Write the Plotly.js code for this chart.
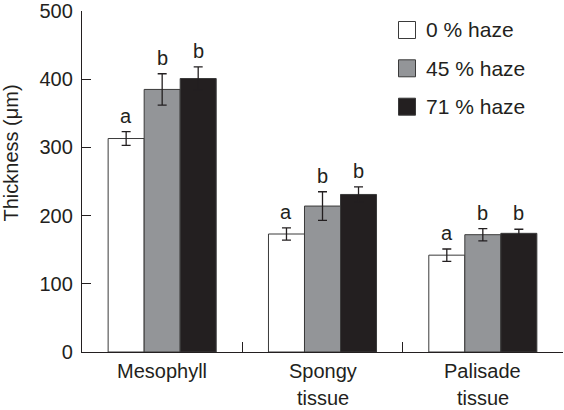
<!DOCTYPE html>
<html>
<head>
<meta charset="utf-8">
<script src="https://cdn.plot.ly/plotly-3.0.1.min.js"></script>
<style>html,body{margin:0;padding:0;background:#fff;}#chart{width:564px;height:410px;}</style>
</head>
<body>
<div id="chart"></div>
<script>
// ---- data ----
const categories = ["Mesophyll", "Spongy tissue", "Palisade tissue"];
const seriesNames = ["0 % haze", "45 % haze", "71 % haze"];
const haze0 = [313, 173, 142];
const haze0Err = [10, 9, 9];
const haze45 = [385, 214, 172];
const haze45Err = [23, 21, 9];
const haze71 = [401, 231, 174];
const haze71Err = [17, 11, 6];
const letters0 = ["a", "a", "a"];
const letters45 = ["b", "b", "b"];
const letters71 = ["b", "b", "b"];
const yTickVals = [0, 100, 200, 300, 400, 500];
const yTitle = "Thickness (\u03bcm)";

// ---- styling ----
const FONT = "Liberation Sans, Arial, Helvetica, sans-serif";
const INK = "#231f20";
const FS = 20;
const fills = ["#ffffff", "#939598", "#231f20"];
const values = [haze0, haze45, haze71];
const errs = [haze0Err, haze45Err, haze71Err];
const letters = [letters0, letters45, letters71];

const W = 564, H = 410;
const margin = {l: 82, r: 1, t: 11, b: 58};
const bargap = 0.326;
const plotW = W - margin.l - margin.r;
const plotH = H - margin.t - margin.b;
const catW = plotW / categories.length;
const barW = catW * (1 - bargap) / values.length;

const traces = values.map((v, i) => ({
  type: "bar",
  x: categories,
  y: v,
  name: seriesNames[i],
  showlegend: false,
  marker: {color: fills[i], line: {color: "#3a3a3a", width: 1}},
  error_y: {type: "data", array: errs[i], visible: true, color: INK, thickness: 1.3, width: 4.5}
}));

const annotations = [];
// significance letters
values.forEach((v, i) => {
  v.forEach((val, j) => {
    annotations.push({
      xref: "x", yref: "y", x: categories[j], y: val + errs[i][j],
      xshift: (i - 1) * barW, yshift: 3,
      text: letters[i][j], showarrow: false,
      xanchor: "center", yanchor: "bottom",
      font: {family: FONT, size: FS, color: INK}
    });
  });
});
// category labels (two lines)
categories.forEach((c) => {
  const parts = c.split(" ");
  parts.forEach((p, k) => {
    annotations.push({
      xref: "x", yref: "paper", x: c, y: 0,
      yshift: k === 0 ? -6 : -32.5,
      text: p, showarrow: false, xanchor: "center", yanchor: "top",
      font: {family: FONT, size: FS, color: INK}
    });
  });
});
// y title
annotations.push({
  xref: "paper", yref: "paper",
  x: (10 - margin.l) / plotW, y: (margin.t + plotH - 153.5) / plotH,
  text: yTitle, textangle: -90, showarrow: false,
  xanchor: "center", yanchor: "middle",
  font: {family: FONT, size: FS, color: INK}
});

// custom legend
const shapes = [];
const legRows = [30, 68.3, 106.7];
const boxSize = 17;
const boxX0 = 398.5;
seriesNames.forEach((n, i) => {
  const cy = legRows[i];
  shapes.push({
    type: "rect", xref: "paper", yref: "paper",
    x0: (boxX0 - margin.l) / plotW, x1: (boxX0 + boxSize - margin.l) / plotW,
    y0: (margin.t + plotH - (cy + boxSize / 2)) / plotH,
    y1: (margin.t + plotH - (cy - boxSize / 2)) / plotH,
    fillcolor: fills[i], line: {color: "#3a3a3a", width: 1}
  });
  annotations.push({
    xref: "paper", yref: "paper",
    x: (424 - margin.l) / plotW, y: (margin.t + plotH - cy) / plotH,
    text: n, showarrow: false, xanchor: "left", yanchor: "middle",
    font: {family: FONT, size: 21, color: INK}
  });
});

const layout = {
  width: W, height: H,
  margin: margin,
  paper_bgcolor: "#fff", plot_bgcolor: "#fff",
  barmode: "group", bargap: bargap, bargroupgap: 0,
  showlegend: false,
  font: {family: FONT, size: FS, color: INK},
  xaxis: {
    type: "category", range: [-0.5, 2.5],
    showline: true, linecolor: INK, linewidth: 1.2,
    ticks: "inside", ticklen: 10, tickwidth: 1.2, tickcolor: INK,
    tickson: "boundaries", showticklabels: false,
    showgrid: false, zeroline: false, fixedrange: true
  },
  yaxis: {
    range: [0, 500], tickvals: yTickVals, ticktext: yTickVals.map(String),
    showline: true, linecolor: INK, linewidth: 1.2,
    ticks: "inside", ticklen: 9, tickwidth: 1.2, tickcolor: INK,
    tickfont: {family: FONT, size: FS, color: INK},
    ticklabelstandoff: 4,
    showgrid: false, zeroline: false, fixedrange: true
  },
  shapes: shapes,
  annotations: annotations
};

Plotly.newPlot("chart", traces, layout, {displayModeBar: false, staticPlot: true});
</script>
</body>
</html>
